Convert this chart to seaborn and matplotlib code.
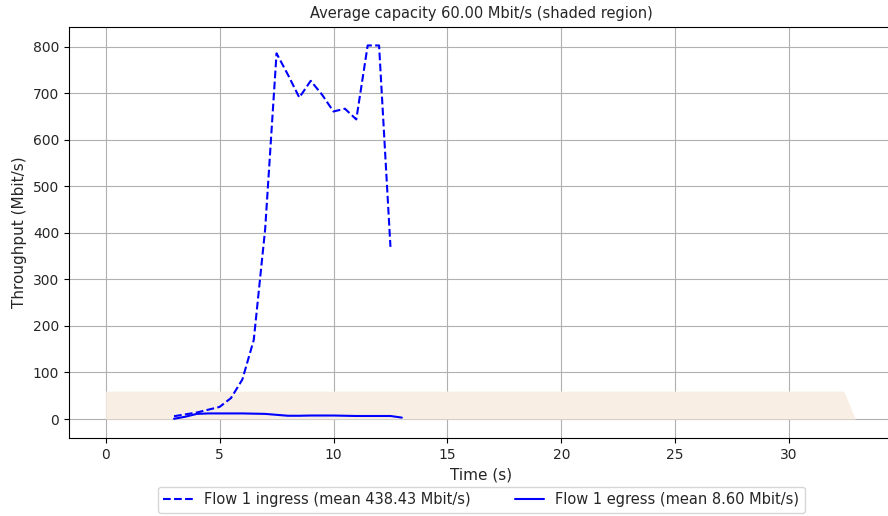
import numpy as np
import pandas as pd
import matplotlib
matplotlib.use("Agg")
import matplotlib.pyplot as plt
import seaborn as sns

# Flow 1 ingress throughput (Mbit/s), sampled every 0.5 s
ingress_time = [3.0, 3.5, 4.0, 4.5, 5.0, 5.5, 6.0, 6.5, 7.0, 7.5, 8.0, 8.5,
                9.0, 9.5, 10.0, 10.5, 11.0, 11.5, 12.0, 12.5]
ingress_tput = [6, 10, 14, 20, 26, 45, 85, 170, 408, 786, 740, 691,
                727, 697, 661, 667, 644, 803, 803, 370]

# Flow 1 egress throughput (Mbit/s)
egress_time = [3.0, 3.5, 4.0, 4.5, 5.0, 5.5, 6.0, 6.5, 7.0, 7.5, 8.0, 8.5,
               9.0, 9.5, 10.0, 10.5, 11.0, 11.5, 12.0, 12.5, 13.0]
egress_tput = [0.5, 5, 11, 12, 12, 12, 12, 11.5, 11, 9, 7, 7,
               7.5, 7.5, 7.5, 7, 6.5, 6.5, 6.5, 6.5, 3]

# Link capacity (Mbit/s)
capacity_time = [0.0, 32.4, 32.9]
capacity_tput = [60, 60, 0]

ingress_label = "Flow 1 ingress (mean 438.43 Mbit/s)"
egress_label = "Flow 1 egress (mean 8.60 Mbit/s)"
title = "Average capacity 60.00 Mbit/s (shaded region)"

sns.set_style("white")
plt.rcParams["font.family"] = ["DejaVu Sans"]

fig = plt.figure(figsize=(8.88, 5.16), dpi=100)
ax = fig.add_axes([0.0777, 0.151, 0.929, 0.797])

ax.fill_between(capacity_time, 0, capacity_tput, color="#f9eee4", linewidth=0)

ingress = pd.DataFrame({"t": ingress_time, "v": ingress_tput})
egress = pd.DataFrame({"t": egress_time, "v": egress_tput})
sns.lineplot(data=ingress, x="t", y="v", ax=ax, color="blue", linestyle="--",
             linewidth=1.5, label=ingress_label)
sns.lineplot(data=egress, x="t", y="v", ax=ax, color="blue", linestyle="-",
             linewidth=1.5, label=egress_label)

ax.set_xlim(-1.61, 34.6)
ax.set_ylim(-41, 843)
ax.set_xticks(np.arange(0, 35, 5))
ax.set_yticks(np.arange(0, 900, 100))
ax.grid(True, color="#b0b0b0", linewidth=0.8)
ax.set_axisbelow(True)
for s in ax.spines.values():
    s.set_color("black")
    s.set_linewidth(0.8)
ax.tick_params(axis="both", which="both", direction="out", length=3.5, width=0.8,
               labelsize=10, bottom=True, left=True, color="black")

ax.set_xlabel("Time (s)", fontsize=11, labelpad=4)
ax.set_ylabel("Throughput (Mbit/s)", fontsize=11, labelpad=4)
ax.set_title(title, fontsize=10.5)

ax.legend(loc="upper center", bbox_to_anchor=(0.5, -0.1), ncol=2,
          fontsize=10.5, frameon=True, handlelength=2, columnspacing=3.0)

fig.savefig("out.png", dpi=100)
